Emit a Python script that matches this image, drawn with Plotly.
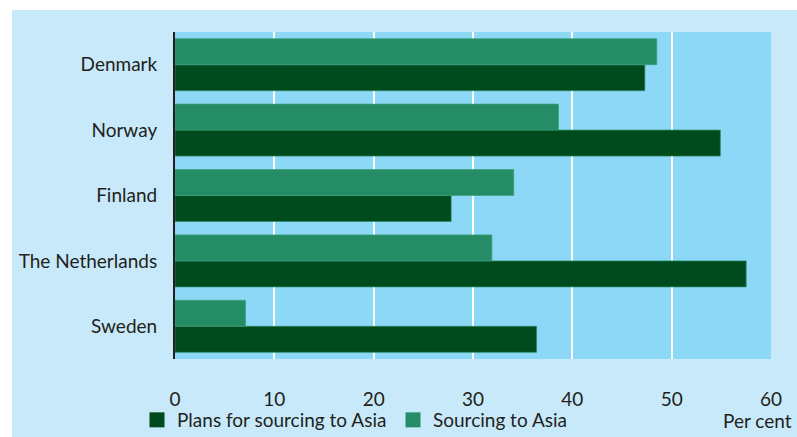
import plotly.graph_objects as go

countries = ["Denmark", "Norway", "Finland", "The Netherlands", "Sweden"]
sourcing = [48.5, 38.6, 34.1, 31.9, 7.1]
plans = [47.3, 54.9, 27.8, 57.5, 36.4]
x_ticks = [0, 10, 20, 30, 40, 50, 60]
series_names = ["Plans for sourcing to Asia", "Sourcing to Asia"]
unit_label = "Per cent"

FONT = "Lato, Roboto, sans-serif"
FS = 19
TXT = "#231f20"
OUTER = "#c7e9f9"
PLOT_BG = "#8dd8f6"
C_PLANS = "#004b1d"
C_SRC = "#248d66"

fig = go.Figure()
fig.add_trace(go.Bar(
    y=countries, x=plans, orientation="h", name=series_names[0],
    marker=dict(color=C_PLANS, line=dict(color="rgba(40,140,100,0.7)", width=1)),
    showlegend=False, legendgroup="plans",
))
fig.add_trace(go.Bar(
    y=countries, x=sourcing, orientation="h", name=series_names[1],
    marker=dict(color=C_SRC, line=dict(color="rgba(60,160,120,0.7)", width=1)),
    showlegend=False, legendgroup="src",
))
# legend entries with larger square keys
fig.add_trace(go.Scatter(
    x=[None], y=[None], mode="markers", name=series_names[0],
    marker=dict(symbol="square", size=15, color=C_PLANS),
    legend="legend", legendgroup="plans", hoverinfo="skip",
))
fig.add_trace(go.Scatter(
    x=[None], y=[None], mode="markers", name=series_names[1],
    marker=dict(symbol="square", size=15, color=C_SRC),
    legend="legend2", legendgroup="src", hoverinfo="skip",
))

L, R, T, B = 175, 26, 32, 78
W, H = 797, 437
pw, ph = W - L - R, H - T - B

def px_x(p):
    return (p - L) / pw

def px_y(p):
    return (H - B - p) / ph

fig.update_layout(
    width=W, height=H,
    margin=dict(l=L, r=R, t=T, b=B, pad=0, autoexpand=False),
    paper_bgcolor=OUTER,
    plot_bgcolor=PLOT_BG,
    barmode="group",
    bargap=0.205,
    bargroupgap=0,
    font=dict(family=FONT, size=FS, color=TXT),
    xaxis=dict(
        range=[0, 60], tickvals=x_ticks, ticktext=[str(v) for v in x_ticks],
        showgrid=True, gridcolor="white", gridwidth=2,
        zeroline=False, showline=False, ticks="",
        ticklabelstandoff=27, automargin=False,
        tickfont=dict(family=FONT, size=FS, color=TXT),
        fixedrange=True,
    ),
    yaxis=dict(
        categoryorder="array", categoryarray=list(reversed(countries)),
        showgrid=False, zeroline=False,
        showline=True, linecolor=TXT, linewidth=2,
        ticks="", ticklabelstandoff=12, automargin=False,
        tickfont=dict(family=FONT, size=FS, color=TXT),
        fixedrange=True,
    ),
    legend=dict(
        orientation="h", x=px_x(137), xanchor="left",
        y=px_y(420), yanchor="middle",
        bgcolor="rgba(0,0,0,0)", font=dict(family=FONT, size=FS, color=TXT),
        borderwidth=0, itemsizing="trace",
    ),
    legend2=dict(
        orientation="h", x=px_x(393), xanchor="left",
        y=px_y(420), yanchor="middle",
        bgcolor="rgba(0,0,0,0)", font=dict(family=FONT, size=FS, color=TXT),
        borderwidth=0, itemsizing="trace",
    ),
    showlegend=True,
    hovermode=False,
    annotations=[dict(
        text=unit_label, xref="paper", yref="paper",
        x=px_x(794), y=px_y(420), xanchor="right", yanchor="middle",
        showarrow=False, font=dict(family=FONT, size=FS, color=TXT),
    )],
    shapes=[
        dict(type="rect", xref="paper", yref="paper", layer="below",
             x0=px_x(-5), x1=px_x(12), y0=px_y(H + 5), y1=px_y(-5),
             fillcolor="white", line=dict(width=0)),
        dict(type="rect", xref="paper", yref="paper", layer="below",
             x0=px_x(-5), x1=px_x(W + 5), y0=px_y(10), y1=px_y(-5),
             fillcolor="white", line=dict(width=0)),
    ],
)

fig.write_html(
    "out.html",
    config={"displayModeBar": False},
    post_script="document.body.style.margin='0';document.body.style.overflow='hidden';",
)
